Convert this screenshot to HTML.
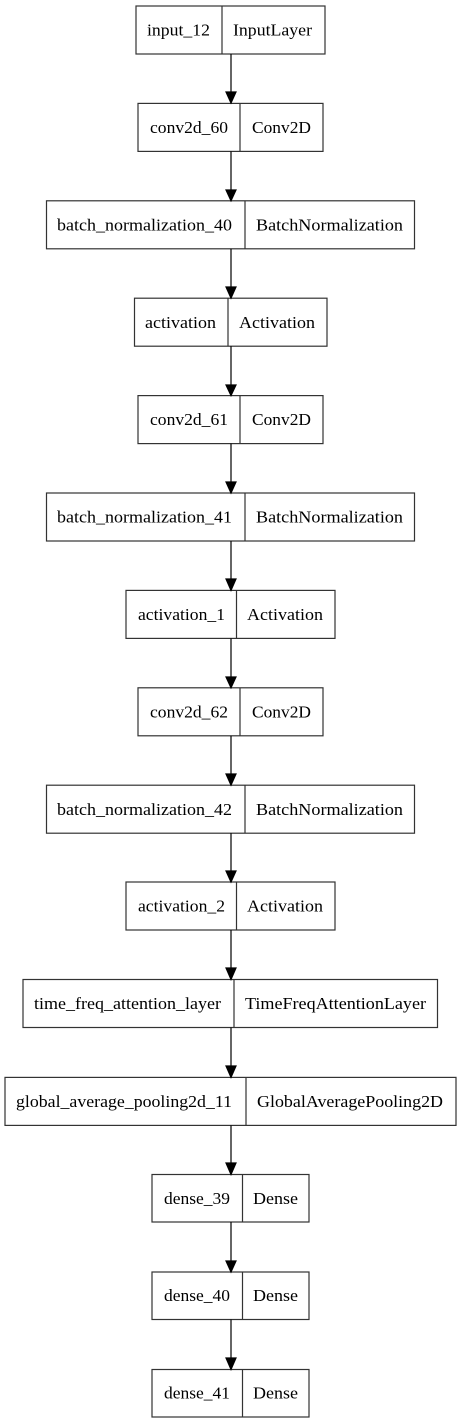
<!DOCTYPE html>
<html><head><meta charset="utf-8"><style>
html,body{margin:0;padding:0;background:#fff;}
svg{display:block;}
text{font-family:"Liberation Serif","Times New Roman",serif;font-size:17px;fill:#000;}
</style></head><body>
<svg width="461" height="1423" viewBox="0 0 461 1423" xmlns="http://www.w3.org/2000/svg">
<g fill="#fff" stroke="#333" stroke-width="1.2">
<rect x="136" y="6" width="189" height="48"/><line x1="222" y1="6" x2="222" y2="54"/>
<rect x="138" y="103.4" width="185" height="48"/><line x1="240" y1="103.4" x2="240" y2="151.4"/>
<rect x="46.5" y="200.8" width="368" height="48"/><line x1="245" y1="200.8" x2="245" y2="248.8"/>
<rect x="134.5" y="298.2" width="192.5" height="48"/><line x1="228" y1="298.2" x2="228" y2="346.2"/>
<rect x="138" y="395.6" width="185" height="48"/><line x1="240" y1="395.6" x2="240" y2="443.6"/>
<rect x="46.5" y="493" width="368" height="48"/><line x1="245" y1="493" x2="245" y2="541"/>
<rect x="126" y="590.4" width="209" height="48"/><line x1="236.5" y1="590.4" x2="236.5" y2="638.4"/>
<rect x="138" y="687.8" width="185" height="48"/><line x1="240" y1="687.8" x2="240" y2="735.8"/>
<rect x="46.5" y="785.2" width="368" height="48"/><line x1="245" y1="785.2" x2="245" y2="833.2"/>
<rect x="126" y="882" width="209" height="48"/><line x1="236.5" y1="882" x2="236.5" y2="930"/>
<rect x="23" y="979.5" width="414.5" height="48"/><line x1="234" y1="979.5" x2="234" y2="1027.5"/>
<rect x="5" y="1077.4" width="451" height="48"/><line x1="246" y1="1077.4" x2="246" y2="1125.4"/>
<rect x="152" y="1174.5" width="157" height="47.5"/><line x1="242.5" y1="1174.5" x2="242.5" y2="1222"/>
<rect x="152" y="1272" width="157" height="47.5"/><line x1="242.5" y1="1272" x2="242.5" y2="1319.5"/>
<rect x="152" y="1369.5" width="157" height="47.5"/><line x1="242.5" y1="1369.5" x2="242.5" y2="1417"/>
</g>
<g stroke="#000" stroke-width="1.2" fill="#000">
<line x1="231" y1="54" x2="231" y2="92"/><polygon points="226,92 236,92 231,103"/>
<line x1="231" y1="151.4" x2="231" y2="190"/><polygon points="226,190 236,190 231,200.8"/>
<line x1="231" y1="248.8" x2="231" y2="287"/><polygon points="226,287 236,287 231,298.2"/>
<line x1="231" y1="346.2" x2="231" y2="385"/><polygon points="226,385 236,385 231,395.6"/>
<line x1="231" y1="443.6" x2="231" y2="482"/><polygon points="226,482 236,482 231,493"/>
<line x1="231" y1="541" x2="231" y2="579"/><polygon points="226,579 236,579 231,590.4"/>
<line x1="231" y1="638.4" x2="231" y2="677"/><polygon points="226,677 236,677 231,687.8"/>
<line x1="231" y1="735.8" x2="231" y2="774"/><polygon points="226,774 236,774 231,785.2"/>
<line x1="231" y1="833.2" x2="231" y2="871"/><polygon points="226,871 236,871 231,882"/>
<line x1="231" y1="930" x2="231" y2="968"/><polygon points="226,968 236,968 231,979.5"/>
<line x1="231" y1="1027.5" x2="231" y2="1066"/><polygon points="226,1066 236,1066 231,1077.4"/>
<line x1="231" y1="1125.4" x2="231" y2="1163"/><polygon points="226,1163 236,1163 231,1174.5"/>
<line x1="231" y1="1222" x2="231" y2="1261"/><polygon points="226,1261 236,1261 231,1272"/>
<line x1="231" y1="1319.5" x2="231" y2="1358"/><polygon points="226,1358 236,1358 231,1369.5"/>
</g>
<g text-anchor="middle" lengthAdjust="spacingAndGlyphs">
<text x="178.5" y="35.5" textLength="63" lengthAdjust="spacingAndGlyphs">input_12</text><text x="272.5" y="35.5" textLength="79" lengthAdjust="spacingAndGlyphs">InputLayer</text>
<text x="189" y="133" textLength="78" lengthAdjust="spacingAndGlyphs">conv2d_60</text><text x="281.5" y="133" textLength="59" lengthAdjust="spacingAndGlyphs">Conv2D</text>
<text x="144.5" y="230.5" textLength="175" lengthAdjust="spacingAndGlyphs">batch_normalization_40</text><text x="329.5" y="230.5" textLength="147" lengthAdjust="spacingAndGlyphs">BatchNormalization</text>
<text x="180.5" y="327.8" textLength="71" lengthAdjust="spacingAndGlyphs">activation</text><text x="277" y="327.8" textLength="76" lengthAdjust="spacingAndGlyphs">Activation</text>
<text x="189" y="425.2" textLength="78" lengthAdjust="spacingAndGlyphs">conv2d_61</text><text x="281.5" y="425.2" textLength="59" lengthAdjust="spacingAndGlyphs">Conv2D</text>
<text x="144.5" y="522.6" textLength="175" lengthAdjust="spacingAndGlyphs">batch_normalization_41</text><text x="329.5" y="522.6" textLength="147" lengthAdjust="spacingAndGlyphs">BatchNormalization</text>
<text x="181.5" y="620" textLength="87" lengthAdjust="spacingAndGlyphs">activation_1</text><text x="285" y="620" textLength="76" lengthAdjust="spacingAndGlyphs">Activation</text>
<text x="189" y="717.4" textLength="78" lengthAdjust="spacingAndGlyphs">conv2d_62</text><text x="281.5" y="717.4" textLength="59" lengthAdjust="spacingAndGlyphs">Conv2D</text>
<text x="144.5" y="814.8" textLength="175" lengthAdjust="spacingAndGlyphs">batch_normalization_42</text><text x="329.5" y="814.8" textLength="147" lengthAdjust="spacingAndGlyphs">BatchNormalization</text>
<text x="181.5" y="911.6" textLength="87" lengthAdjust="spacingAndGlyphs">activation_2</text><text x="285" y="911.6" textLength="76" lengthAdjust="spacingAndGlyphs">Activation</text>
<text x="127.5" y="1009" textLength="187" lengthAdjust="spacingAndGlyphs">time_freq_attention_layer</text><text x="335.5" y="1009" textLength="181" lengthAdjust="spacingAndGlyphs">TimeFreqAttentionLayer</text>
<text x="124" y="1107" textLength="216" lengthAdjust="spacingAndGlyphs">global_average_pooling2d_11</text><text x="350" y="1107" textLength="186" lengthAdjust="spacingAndGlyphs">GlobalAveragePooling2D</text>
<text x="197" y="1203.8" textLength="66" lengthAdjust="spacingAndGlyphs">dense_39</text><text x="275.5" y="1203.8" textLength="45" lengthAdjust="spacingAndGlyphs">Dense</text>
<text x="197" y="1301.2" textLength="66" lengthAdjust="spacingAndGlyphs">dense_40</text><text x="275.5" y="1301.2" textLength="45" lengthAdjust="spacingAndGlyphs">Dense</text>
<text x="197" y="1398.6" textLength="66" lengthAdjust="spacingAndGlyphs">dense_41</text><text x="275.5" y="1398.6" textLength="45" lengthAdjust="spacingAndGlyphs">Dense</text>
</g>
</svg>
</body></html>
